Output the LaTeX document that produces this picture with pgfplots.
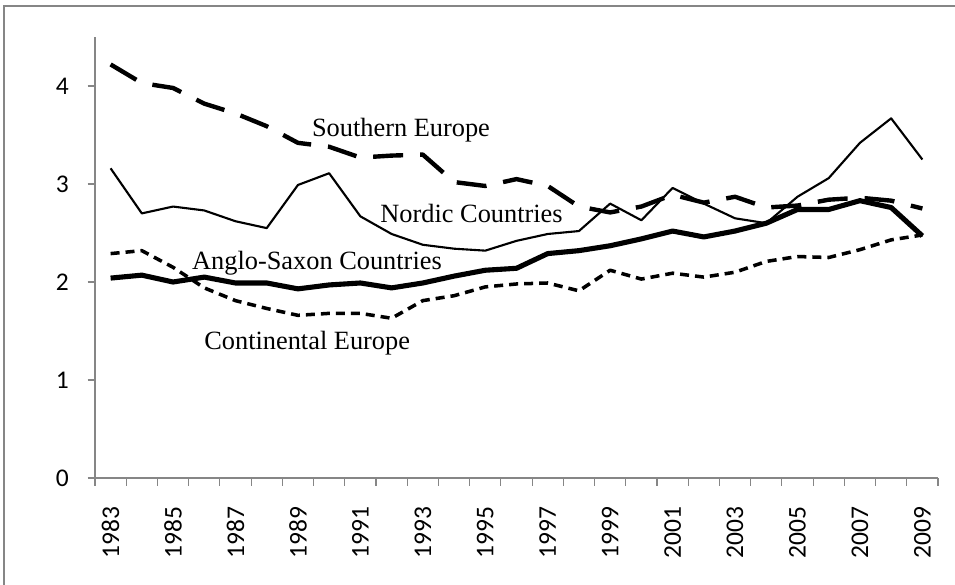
\documentclass[border=0pt]{standalone}
\usepackage{fontspec}
\setmainfont{Liberation Serif}
\newfontfamily\calibri{Carlito}
\usepackage{pgfplots}
\pgfplotsset{compat=1.18}
\definecolor{axgray}{RGB}{134,134,134}

\begin{document}
\begin{tikzpicture}
% page = 955x584 px at 0.02cm per px
\useasboundingbox (-1.9,-2.12) rectangle (17.2,9.56);
\draw[axgray, line width=0.04cm] (-1.82,-3) -- (-1.82,9.44) -- (18,9.44);
\begin{axis}[
  scale only axis,
  width=16.86cm, height=8.82cm,
  xmin=1982.5, xmax=2009.5,
  ymin=0, ymax=4.5,
  axis lines=left,
  axis line style={axgray, line width=0.6pt, -},
  tick style={axgray, line width=0.6pt},
  tick align=outside,
  xtick={1983,1985,...,2009},
  major x tick style={draw=none},
  minor xtick={1982.5,1983.5,...,2009.5},
  minor tick length=0.15cm,
  major tick length=0.15cm,
  ytick={0,1,2,3,4},
  xticklabel style={rotate=90, anchor=east, xshift=-0.3cm,
    /pgf/number format/1000 sep={}},
  yticklabel style={xshift=-0.25cm},
  ticklabel style={font=\calibri\fontsize{14.5}{16}\selectfont},
  /pgf/number format/assume math mode=true,
  clip=false,
]
% Southern Europe
\addplot[black, line width=2.5pt, dash pattern=on 0.6cm off 0.34cm, line join=round]
  coordinates {(1983,4.22)(1984,4.03)(1985,3.98)(1986,3.82)(1987,3.72)(1988,3.59)
  (1989,3.42)(1990,3.38)(1991,3.27)(1992,3.29)(1993,3.30)(1994,3.02)(1995,2.98)
  (1996,3.05)(1997,2.98)(1998,2.77)(1999,2.71)(2000,2.77)(2001,2.89)(2002,2.81)
  (2003,2.87)(2004,2.76)(2005,2.78)(2006,2.84)(2007,2.86)(2008,2.83)(2009,2.75)};
% Nordic Countries
\addplot[black, line width=1.2pt, line join=round]
  coordinates {(1983,3.16)(1984,2.70)(1985,2.77)(1986,2.73)(1987,2.62)(1988,2.55)
  (1989,2.99)(1990,3.11)(1991,2.67)(1992,2.49)(1993,2.38)(1994,2.34)(1995,2.32)
  (1996,2.42)(1997,2.49)(1998,2.52)(1999,2.80)(2000,2.63)(2001,2.96)(2002,2.80)
  (2003,2.65)(2004,2.60)(2005,2.87)(2006,3.06)(2007,3.42)(2008,3.67)(2009,3.25)};
% Anglo-Saxon Countries
\addplot[black, line width=2.9pt, line join=round]
  coordinates {(1983,2.04)(1984,2.07)(1985,2.00)(1986,2.05)(1987,1.99)(1988,1.99)
  (1989,1.93)(1990,1.97)(1991,1.99)(1992,1.94)(1993,1.99)(1994,2.06)(1995,2.12)
  (1996,2.14)(1997,2.29)(1998,2.32)(1999,2.37)(2000,2.44)(2001,2.52)(2002,2.46)
  (2003,2.52)(2004,2.60)(2005,2.74)(2006,2.74)(2007,2.83)(2008,2.76)(2009,2.47)};
% Continental Europe
\addplot[black, line width=2pt, dash pattern=on 0.18cm off 0.12cm, line join=round]
  coordinates {(1983,2.29)(1984,2.32)(1985,2.15)(1986,1.94)(1987,1.81)(1988,1.73)
  (1989,1.66)(1990,1.68)(1991,1.68)(1992,1.63)(1993,1.81)(1994,1.86)(1995,1.95)
  (1996,1.98)(1997,1.99)(1998,1.91)(1999,2.12)(2000,2.03)(2001,2.09)(2002,2.05)
  (2003,2.10)(2004,2.21)(2005,2.26)(2006,2.25)(2007,2.33)(2008,2.43)(2009,2.48)};

\node[anchor=base west, inner sep=0, font=\fontsize{15}{17}\selectfont]
  at (axis cs:1989.44,3.485) {Southern Europe};
\node[anchor=base west, inner sep=0, font=\fontsize{15}{17}\selectfont]
  at (axis cs:1991.63,2.603) {Nordic Countries};
\node[anchor=base west, inner sep=0, font=\fontsize{15}{17}\selectfont]
  at (axis cs:1985.6,2.129) {Anglo-Saxon Countries};
\node[anchor=base west, inner sep=0, font=\fontsize{15}{17}\selectfont]
  at (axis cs:1985.99,1.315) {Continental Europe};
\end{axis}
\end{tikzpicture}
\end{document}
